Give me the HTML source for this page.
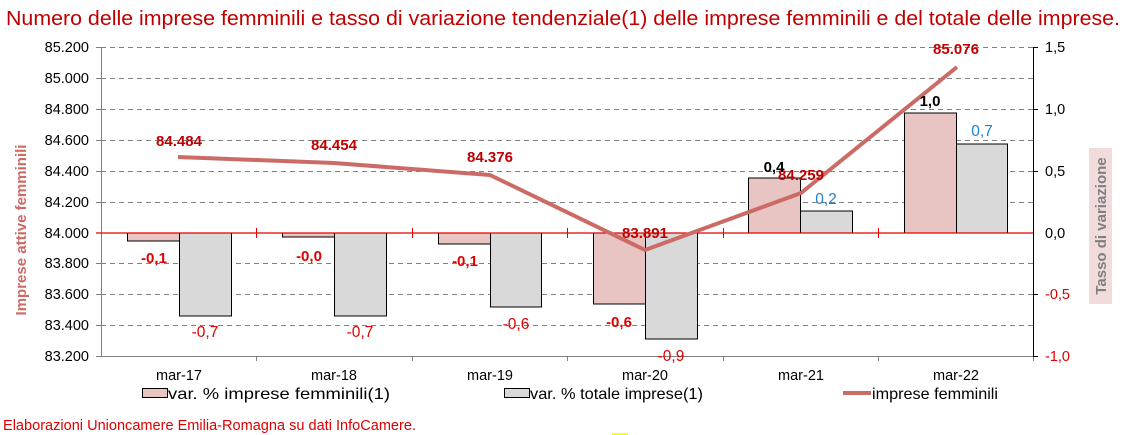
<!DOCTYPE html>
<html><head><meta charset="utf-8"><style>
html,body{margin:0;padding:0;background:#fff;}
svg{display:block;font-family:"Liberation Sans",Arial,sans-serif;}
</style></head><body>
<svg width="1130" height="435" viewBox="0 0 1130 435" xmlns="http://www.w3.org/2000/svg">
<text x="563" y="25" text-anchor="middle" font-size="20" textLength="1114" lengthAdjust="spacingAndGlyphs" fill="#c00000">Numero delle imprese femminili e tasso di variazione tendenziale(1) delle imprese femminili e del totale delle imprese.</text>
<g stroke="#808080" stroke-dasharray="5,4" stroke-width="1">
<line x1="101" x2="1033" y1="47.5" y2="47.5"/>
<line x1="101" x2="1033" y1="78.5" y2="78.5"/>
<line x1="101" x2="1033" y1="109.5" y2="109.5"/>
<line x1="101" x2="1033" y1="140.5" y2="140.5"/>
<line x1="101" x2="1033" y1="171.5" y2="171.5"/>
<line x1="101" x2="1033" y1="202.5" y2="202.5"/>
<line x1="101" x2="1033" y1="263.5" y2="263.5"/>
<line x1="101" x2="1033" y1="294.5" y2="294.5"/>
<line x1="101" x2="1033" y1="325.5" y2="325.5"/>
</g>
<g stroke="#000" stroke-width="1">
<rect x="127.5" y="233" width="52" height="8" fill="#e8c4c2"/>
<rect x="179.5" y="233" width="52" height="83" fill="#d9d9d9"/>
<rect x="282.5" y="233" width="52" height="4" fill="#e8c4c2"/>
<rect x="334.5" y="233" width="52" height="83" fill="#d9d9d9"/>
<rect x="438.5" y="233" width="52" height="11" fill="#e8c4c2"/>
<rect x="490.5" y="233" width="51" height="74" fill="#d9d9d9"/>
<rect x="593.5" y="233" width="52" height="71" fill="#e8c4c2"/>
<rect x="645.5" y="233" width="52" height="106" fill="#d9d9d9"/>
<rect x="748.5" y="178" width="52" height="55" fill="#e8c4c2"/>
<rect x="800.5" y="211" width="52" height="22" fill="#d9d9d9"/>
<rect x="904.5" y="113" width="52" height="120" fill="#e8c4c2"/>
<rect x="956.5" y="144" width="51" height="89" fill="#d9d9d9"/>
</g>
<line x1="101.5" y1="47" x2="101.5" y2="356" stroke="#808080"/>
<line x1="101" y1="356.5" x2="1033" y2="356.5" stroke="#808080"/>
<g stroke="#808080">
<line x1="96" x2="101" y1="47.5" y2="47.5"/><line x1="96" x2="101" y1="78.5" y2="78.5"/><line x1="96" x2="101" y1="109.5" y2="109.5"/><line x1="96" x2="101" y1="140.5" y2="140.5"/><line x1="96" x2="101" y1="171.5" y2="171.5"/><line x1="96" x2="101" y1="202.5" y2="202.5"/><line x1="96" x2="101" y1="263.5" y2="263.5"/><line x1="96" x2="101" y1="294.5" y2="294.5"/><line x1="96" x2="101" y1="325.5" y2="325.5"/><line x1="96" x2="101" y1="356.5" y2="356.5"/>
<line x1="256.5" x2="256.5" y1="356" y2="361"/><line x1="412.5" x2="412.5" y1="356" y2="361"/><line x1="567.5" x2="567.5" y1="356" y2="361"/><line x1="723.5" x2="723.5" y1="356" y2="361"/><line x1="878.5" x2="878.5" y1="356" y2="361"/><line x1="1033.5" x2="1033.5" y1="356" y2="361"/>
</g>
<line x1="1033.5" y1="47" x2="1033.5" y2="357" stroke="#000"/>
<g stroke="#000"><line x1="1033" x2="1038" y1="47.5" y2="47.5"/><line x1="1033" x2="1038" y1="109.5" y2="109.5"/><line x1="1033" x2="1038" y1="171.5" y2="171.5"/><line x1="1033" x2="1038" y1="294.5" y2="294.5"/><line x1="1033" x2="1038" y1="356.5" y2="356.5"/></g>
<line x1="96" y1="233" x2="1033" y2="233" stroke="#e00000" stroke-width="1.2"/>
<g stroke="#e00000"><line x1="256.5" x2="256.5" y1="228" y2="238"/><line x1="412.5" x2="412.5" y1="228" y2="238"/><line x1="567.5" x2="567.5" y1="228" y2="238"/><line x1="723.5" x2="723.5" y1="228" y2="238"/><line x1="878.5" x2="878.5" y1="228" y2="238"/></g>
<polyline points="178,157 334,163 490,175 645,250 801,193 957,67" fill="none" stroke="#cc6b66" stroke-width="4" stroke-linejoin="round"/>
<g font-size="14.5" fill="#000" text-anchor="end">
<text x="89" y="52">85.200</text><text x="89" y="83">85.000</text><text x="89" y="114">84.800</text><text x="89" y="145">84.600</text><text x="89" y="176">84.400</text><text x="89" y="207">84.200</text><text x="89" y="238">84.000</text><text x="89" y="268">83.800</text><text x="89" y="299">83.600</text><text x="89" y="330">83.400</text><text x="89" y="361">83.200</text>
</g>
<g font-size="14.5" text-anchor="start">
<text x="1045" y="52" fill="#000">1,5</text><text x="1045" y="114" fill="#000">1,0</text><text x="1045" y="176" fill="#000">0,5</text><text x="1045" y="238" fill="#000">0,0</text><text x="1045" y="299" fill="#e00000">-0,5</text><text x="1045" y="361" fill="#e00000">-1,0</text>
</g>
<text transform="translate(26,230) rotate(-90)" text-anchor="middle" font-size="15" font-weight="bold" fill="#cc6b66">Imprese attive femminili</text>
<rect x="1089" y="148" width="23" height="156" fill="#f2dcdb"/>
<text transform="translate(1106,226) rotate(-90)" text-anchor="middle" font-size="15" font-weight="bold" fill="#808080">Tasso di variazione</text>
<g font-size="14.5" fill="#000" text-anchor="middle">
<text x="179" y="380">mar-17</text><text x="334" y="380">mar-18</text><text x="490" y="380">mar-19</text><text x="645" y="380">mar-20</text><text x="801" y="380">mar-21</text><text x="956" y="380">mar-22</text>
</g>
<g font-size="15" font-weight="bold" fill="#c00000" text-anchor="middle">
<text x="179" y="146">84.484</text><text x="334" y="150">84.454</text><text x="490" y="162">84.376</text><text x="645" y="238">83.891</text><text x="801" y="180">84.259</text><text x="956" y="54">85.076</text>
</g>
<g font-size="15" font-weight="bold" text-anchor="middle">
<text x="154" y="263" fill="#e00000">-0,1</text><text x="309" y="261" fill="#e00000">-0,0</text><text x="465" y="266" fill="#e00000">-0,1</text><text x="619" y="327" fill="#e00000">-0,6</text><text x="774" y="172" fill="#000">0,4</text><text x="930" y="106" fill="#000">1,0</text>
</g>
<g font-size="15.5" text-anchor="middle">
<text x="205" y="337" fill="#e00000">-0,7</text><text x="360" y="337" fill="#e00000">-0,7</text><text x="516" y="329" fill="#e00000">-0,6</text><text x="671" y="361" fill="#e00000">-0,9</text><text x="826" y="204" fill="#1f7fd0">0,2</text><text x="982" y="136" fill="#1f7fd0">0,7</text>
</g>
<rect x="142.5" y="388.5" width="25" height="9" fill="#e8c4c2" stroke="#000"/>
<text x="168" y="399" font-size="16" fill="#000" textLength="222" lengthAdjust="spacingAndGlyphs">var. % imprese femminili(1)</text>
<rect x="504.5" y="388.5" width="25" height="9" fill="#d9d9d9" stroke="#000"/>
<text x="530" y="399" font-size="16" fill="#000" textLength="173" lengthAdjust="spacingAndGlyphs">var. % totale imprese(1)</text>
<line x1="843" y1="393" x2="871" y2="393" stroke="#cc6b66" stroke-width="4"/>
<text x="872" y="399" font-size="16" fill="#000" textLength="126" lengthAdjust="spacingAndGlyphs">imprese femminili</text>
<text x="3" y="430" font-size="14.5" fill="#e00000" textLength="413" lengthAdjust="spacingAndGlyphs">Elaborazioni Unioncamere Emilia-Romagna su dati InfoCamere.</text>
<rect x="612" y="433" width="16" height="2" fill="#ffff00"/>
</svg>
</body></html>
